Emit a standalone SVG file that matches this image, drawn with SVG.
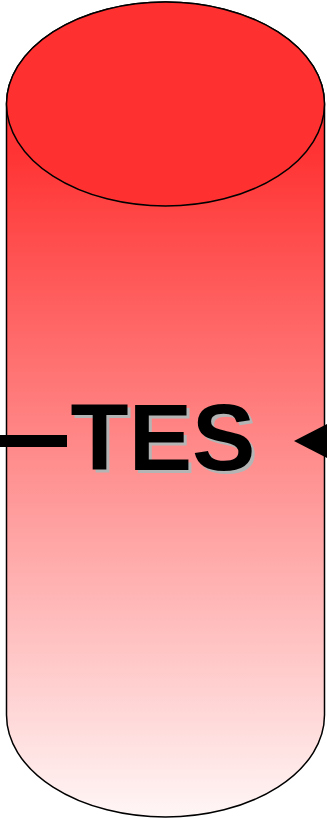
<svg xmlns="http://www.w3.org/2000/svg" width="327" height="819" viewBox="0 0 327 819">
<defs>
<linearGradient id="body" gradientUnits="userSpaceOnUse" x1="0" y1="152" x2="0" y2="848">
<stop offset="0" stop-color="#ff3333"/>
<stop offset="1" stop-color="#ffffff"/>
</linearGradient>
<style>
.edge{stroke:#000;stroke-width:1.5}
.lbl{font-family:"Liberation Sans",Arial,sans-serif;font-weight:bold;font-size:95px;text-anchor:middle}
</style>
</defs>
<g id="tes">
<path class="edge" fill="url(#body)" d="M6.5,104 L6.5,715 A159,102 0 0 0 324.5,715 L324.5,104 A159,102 0 0 0 6.5,104 Z"/>
<ellipse class="edge" cx="165.5" cy="104" rx="159" ry="102" fill="#ff3030"/>
<text class="lbl" x="166" y="473" fill="#b4b4b4">TES</text>
<text class="lbl" x="163" y="470" fill="#000">TES</text>
</g>
<g id="connectors">
<line x1="0" y1="441" x2="67" y2="441" stroke="#000" stroke-width="12"/>
<polygon points="294,441 327,424 327,458" fill="#000"/>
</g>
</svg>
